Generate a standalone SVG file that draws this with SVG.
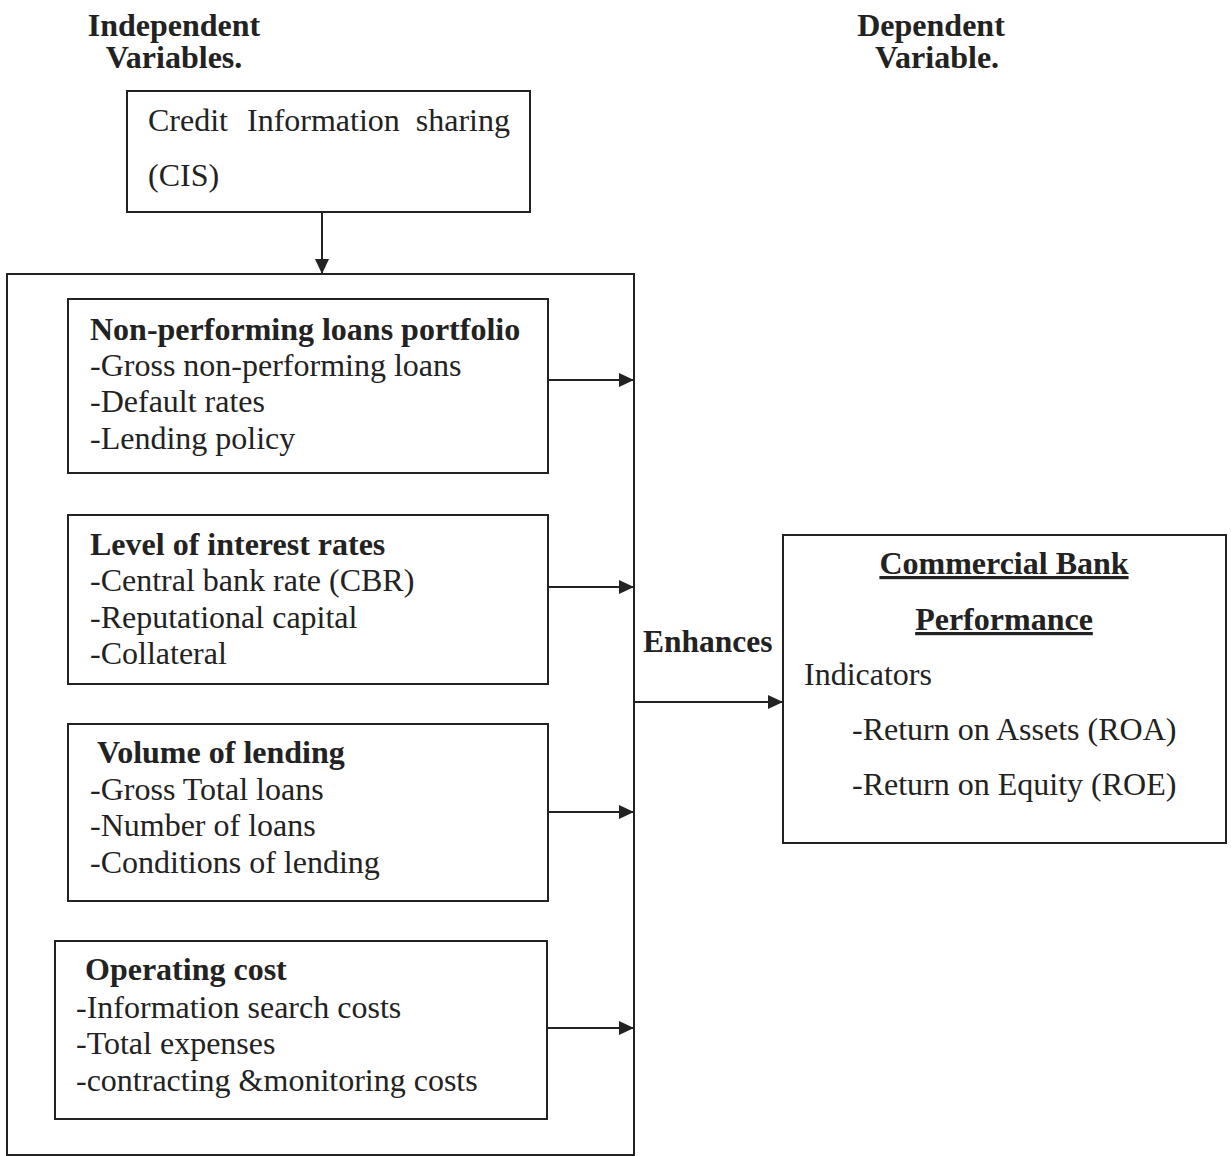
<svg xmlns="http://www.w3.org/2000/svg" width="1231" height="1156" viewBox="0 0 1231 1156">
<style>
text{font-family:"Liberation Serif","Times New Roman",serif;font-size:32px;fill:#222}
.b{font-weight:bold}
.box{fill:none;stroke:#222;stroke-width:2}
.c{stroke:#222;stroke-width:2;fill:none;marker-end:url(#ah)}
.u{text-decoration:underline}
</style>
<defs>
<marker id="ah" viewBox="0 0 10 10" refX="10" refY="5" markerWidth="15" markerHeight="14" markerUnits="userSpaceOnUse" orient="auto" preserveAspectRatio="none">
<path d="M0,0 L10,5 L0,10 z" fill="#222"/>
</marker>
</defs>
<rect width="1231" height="1156" fill="#fff"/>
<g id="titles">
<text class="b" x="174" y="36" text-anchor="middle">Independent</text>
<text class="b" x="174" y="68" text-anchor="middle">Variables.</text>
<text class="b" x="931" y="36" text-anchor="middle">Dependent</text>
<text class="b" x="937" y="68" text-anchor="middle">Variable.</text>
</g>
<g id="cis">
<rect class="box" x="127" y="91" width="403" height="121"/>
<text x="148" y="131">Credit</text>
<text x="247" y="131">Information</text>
<text x="510" y="131" text-anchor="end">sharing</text>
<text x="148" y="186">(CIS)</text>
</g>
<g id="outer">
<rect class="box" x="7" y="274" width="627" height="881"/>
</g>
<g id="npl">
<rect class="box" x="68" y="299" width="480" height="174"/>
<text class="b" x="90" y="340">Non-performing loans portfolio</text>
<text x="90" y="376">-Gross non-performing loans</text>
<text x="90" y="412">-Default rates</text>
<text x="90" y="449">-Lending policy</text>
</g>
<g id="interest">
<rect class="box" x="68" y="515" width="480" height="169"/>
<text class="b" x="90" y="555">Level of interest rates</text>
<text x="90" y="591">-Central bank rate (CBR)</text>
<text x="90" y="628">-Reputational capital</text>
<text x="90" y="664">-Collateral</text>
</g>
<g id="volume">
<rect class="box" x="68" y="724" width="480" height="177"/>
<text class="b" x="97" y="763">Volume of lending</text>
<text x="90" y="800">-Gross Total loans</text>
<text x="90" y="836">-Number of loans</text>
<text x="90" y="873">-Conditions of lending</text>
</g>
<g id="opcost">
<rect class="box" x="55" y="941" width="492" height="178"/>
<text class="b" x="85" y="980">Operating cost</text>
<text x="76" y="1018">-Information search costs</text>
<text x="76" y="1054">-Total expenses</text>
<text x="76" y="1091">-contracting &amp;monitoring costs</text>
</g>
<g id="performance">
<rect class="box" x="783" y="535" width="443" height="308"/>
<text class="b u" x="1004" y="574" text-anchor="middle">Commercial Bank</text>
<text class="b u" x="1004" y="630" text-anchor="middle">Performance</text>
<text x="804" y="685">Indicators</text>
<text x="852" y="740">-Return on Assets (ROA)</text>
<text x="852" y="795">-Return on Equity (ROE)</text>
</g>
<g id="enhances">
<text class="b" x="643" y="652" style="font-size:31.5px">Enhances</text>
</g>
<g id="connectors">
<line class="c" x1="322" y1="212" x2="322" y2="274"/>
<line class="c" x1="548" y1="380" x2="634" y2="380"/>
<line class="c" x1="548" y1="587" x2="634" y2="587"/>
<line class="c" x1="548" y1="812" x2="634" y2="812"/>
<line class="c" x1="547" y1="1028" x2="634" y2="1028"/>
<line class="c" x1="634" y1="702" x2="783" y2="702"/>
</g>
</svg>
